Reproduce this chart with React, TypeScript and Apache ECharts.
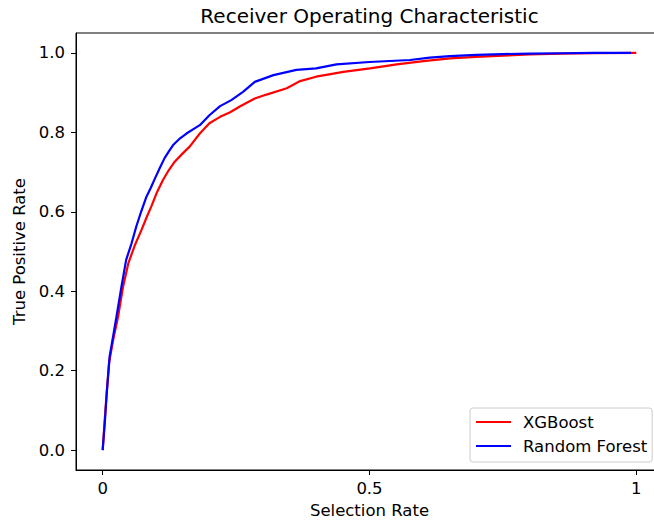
import React, { useEffect, useRef } from "react";
import * as echarts from "echarts";

const seriesNames = ["XGBoost", "Random Forest"];

const xgbX = [0, 0.003, 0.007, 0.012, 0.02, 0.029, 0.038, 0.048, 0.06, 0.073, 0.082, 0.091, 0.102, 0.113, 0.124, 0.135, 0.15, 0.163, 0.182, 0.2, 0.22, 0.238, 0.257, 0.285, 0.307, 0.345, 0.37, 0.4, 0.451, 0.501, 0.551, 0.601, 0.651, 0.7, 0.75, 0.8, 0.86, 0.92, 1.0];
const xgbY = [0, 0.06, 0.136, 0.22, 0.28, 0.337, 0.41, 0.47, 0.515, 0.555, 0.585, 0.613, 0.65, 0.68, 0.705, 0.726, 0.747, 0.764, 0.797, 0.823, 0.839, 0.85, 0.865, 0.885, 0.895, 0.911, 0.929, 0.94, 0.952, 0.961, 0.971, 0.979, 0.986, 0.99, 0.993, 0.996, 0.998, 0.999, 1.0];

const rfX = [0, 0.004, 0.008, 0.013, 0.02, 0.026, 0.035, 0.044, 0.054, 0.063, 0.072, 0.082, 0.09, 0.098, 0.107, 0.116, 0.124, 0.132, 0.145, 0.157, 0.17, 0.182, 0.2, 0.22, 0.241, 0.263, 0.285, 0.32, 0.363, 0.4, 0.438, 0.5, 0.576, 0.613, 0.651, 0.7, 0.75, 0.8, 0.86, 0.92, 0.99];
const rfY = [0, 0.07, 0.15, 0.236, 0.29, 0.337, 0.41, 0.479, 0.52, 0.563, 0.6, 0.638, 0.66, 0.684, 0.71, 0.735, 0.752, 0.768, 0.785, 0.797, 0.808, 0.818, 0.843, 0.866, 0.881, 0.902, 0.927, 0.944, 0.957, 0.961, 0.971, 0.977, 0.982, 0.988, 0.992, 0.995, 0.997, 0.998, 0.999, 1.0, 1.0];

const xTicks = [0, 0.5, 1];
const yTicks = [0, 0.2, 0.4, 0.6, 0.8, 1.0];

const FONT = "DejaVu Sans";

export default function App() {
  const ref = useRef<HTMLDivElement>(null);
  useEffect(() => {
    document.body.style.margin = "0";
    const chart = echarts.init(ref.current!, null, { renderer: "svg" });
    const zip = (xs: number[], ys: number[]) => xs.map((x, i) => [x, ys[i]]);
    chart.setOption({
      animation: false,
      backgroundColor: "#ffffff",
      title: {
        text: "Receiver Operating Characteristic",
        left: 369.5,
        textAlign: "center",
        top: 6,
        padding: 0,
        textStyle: { fontFamily: FONT, fontSize: 20, fontWeight: "normal", color: "#000" },
      },
      legend: {
        orient: "vertical",
        left: 470,
        top: 408,
        padding: [5, 5, 7, 6],
        itemGap: 6,
        itemWidth: 35,
        itemHeight: 2,
        icon: "rect",
        backgroundColor: "rgba(255,255,255,0.8)",
        borderColor: "#cccccc",
        borderWidth: 1,
        borderRadius: 3,
        textStyle: { fontFamily: FONT, fontSize: 16.5, color: "#000", lineHeight: 18, padding: [0, 0, 0, 7] },
        data: seriesNames,
      },
      grid: {
        left: 76,
        top: 33,
        width: 587,
        height: 437,
        outerBoundsMode: "none",
        containLabel: false,
        show: true,
        borderColor: "#000",
        borderWidth: 1,
        backgroundColor: "transparent",
      },
      xAxis: {
        type: "value",
        min: -0.05,
        max: 1.05,
        name: "Selection Rate",
        nameLocation: "middle",
        nameGap: 32,
        nameTextStyle: { fontFamily: FONT, fontSize: 16.5, color: "#000" },
        axisLine: { show: true, onZero: false, lineStyle: { color: "#000", width: 1 } },
        axisTick: { show: true, length: 5, customValues: xTicks, lineStyle: { color: "#000" } },
        axisLabel: {
          customValues: xTicks,
          margin: 10,
          fontFamily: FONT,
          fontSize: 16.5,
          color: "#000",
          formatter: (v: number) => String(v),
        },
        splitLine: { show: false },
      },
      yAxis: {
        type: "value",
        min: -0.05,
        max: 1.05,
        name: "True Positive Rate",
        nameLocation: "middle",
        nameGap: 46,
        nameRotate: 90,
        nameTextStyle: { fontFamily: FONT, fontSize: 16.5, color: "#000" },
        axisLine: { show: true, onZero: false, lineStyle: { color: "#000", width: 1 } },
        axisTick: { show: true, length: 5, customValues: yTicks, lineStyle: { color: "#000" } },
        axisLabel: {
          customValues: yTicks,
          margin: 11,
          fontFamily: FONT,
          fontSize: 16.5,
          color: "#000",
          formatter: (v: number) => v.toFixed(1),
        },
        splitLine: { show: false },
      },
      series: [
        {
          name: seriesNames[0],
          type: "line",
          data: zip(xgbX, xgbY),
          showSymbol: false,
          symbol: "none",
          lineStyle: { color: "#ff0000", width: 2.2 },
          itemStyle: { color: "#ff0000" },
        },
        {
          name: seriesNames[1],
          type: "line",
          data: zip(rfX, rfY),
          showSymbol: false,
          symbol: "none",
          lineStyle: { color: "#0000ff", width: 2.2 },
          itemStyle: { color: "#0000ff" },
        },
      ],
    });
    return () => chart.dispose();
  }, []);
  return (
    <div style={{ width: 654, height: 521, overflow: "hidden" }}>
      <div ref={ref} style={{ width: 700, height: 521 }} />
    </div>
  );
}
